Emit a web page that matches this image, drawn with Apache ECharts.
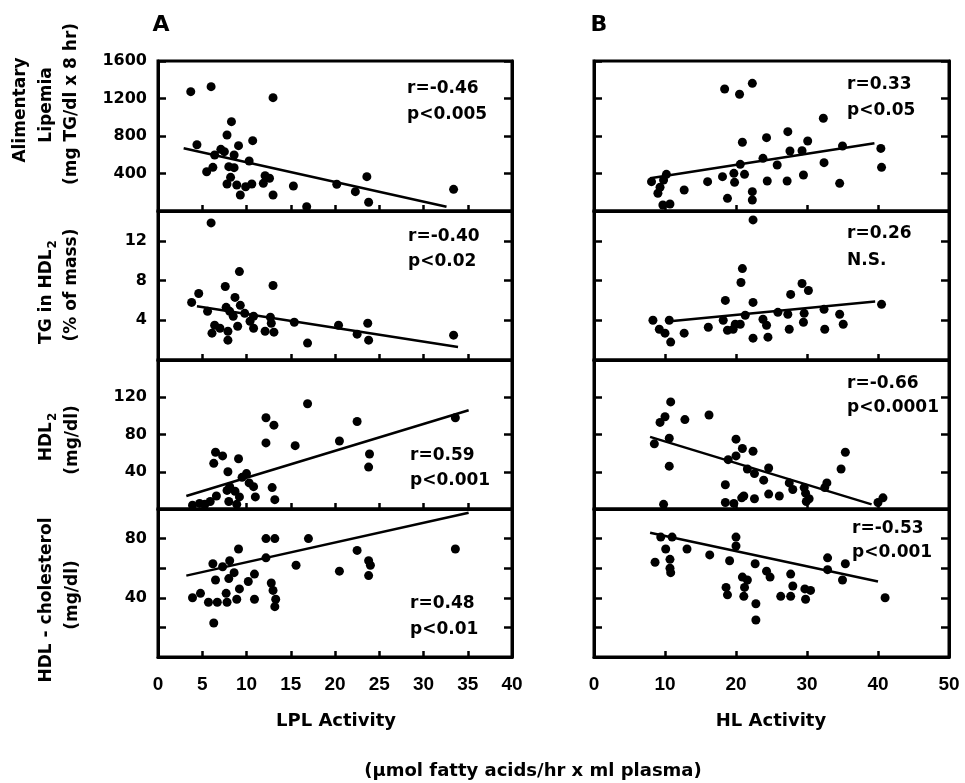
<!DOCTYPE html>
<html>
<head>
<meta charset="utf-8">
<script src="https://cdn.jsdelivr.net/npm/echarts@6/dist/echarts.min.js"></script>
<style>html,body{margin:0;padding:0;background:#fff}#c{width:965px;height:783px}</style>
</head>
<body>
<div id="c"></div>
<script>
// ---------- DATA ----------
const lplAlimentary = [[3.7,1273],[6.0,1326],[13.0,1209],[8.3,953],[7.8,811],[4.4,707],[9.1,697],[10.7,750],[7.1,658],[7.5,633],[6.4,597],[8.6,597],[10.3,533],[8.0,473],[8.6,462],[6.2,466],[5.5,419],[8.2,359],[12.1,377],[12.6,349],[11.9,295],[7.8,288],[8.9,277],[10.6,288],[9.9,259],[9.3,171],[13.0,171],[15.3,267],[20.2,285],[22.3,206],[23.6,366],[23.8,93],[33.4,231],[16.8,45]];
const lplAlimentaryFit = [[2.9,670],[32.6,45]];

const lplTG = [[6.0,13.8],[9.2,8.9],[13.0,7.5],[7.6,7.4],[4.6,6.7],[8.7,6.3],[3.8,5.8],[9.3,5.5],[7.7,5.3],[5.6,4.9],[8.1,4.9],[8.5,4.4],[9.8,4.7],[10.8,4.4],[10.4,3.9],[12.7,4.3],[12.8,3.7],[15.4,3.8],[6.4,3.5],[7.0,3.2],[9.0,3.4],[10.8,3.2],[7.9,2.9],[6.1,2.7],[12.1,2.9],[13.1,2.8],[7.9,2.0],[16.9,1.7],[20.4,3.5],[23.7,3.7],[22.5,2.6],[23.8,2.0],[33.4,2.5]];
const lplTGFit = [[4.4,5.4],[33.9,1.3]];

const lplHDL2 = [[16.9,113],[12.2,98],[13.1,90],[22.5,94],[33.6,98],[12.2,71],[15.5,68],[20.5,73],[23.9,59],[23.8,45],[6.5,61],[7.3,57],[6.3,49],[9.1,54],[7.9,40],[10.0,38],[9.5,34],[10.3,28],[10.8,24],[8.1,24],[7.8,20],[8.7,19],[6.6,14],[9.2,13],[11.0,13],[12.9,23],[13.2,10],[8.0,8],[5.9,8],[4.7,6],[3.9,4],[5.3,5],[8.9,5]];
const lplHDL2Fit = [[3.2,14],[35.1,106]];

const lplHDLc = [[12.2,80],[13.2,80],[17.0,80],[9.1,73],[22.5,72],[33.6,73],[12.2,67],[6.2,63],[8.1,65],[7.3,61],[15.6,62],[23.8,65],[24.0,62],[20.5,58],[23.8,55],[8.6,57],[10.9,56],[8.0,53],[6.5,52],[10.2,51],[12.8,50],[9.2,46],[7.7,43],[4.8,43],[13.0,45],[3.9,40],[8.9,39],[7.8,37],[10.9,39],[13.3,39],[5.7,37],[6.7,37],[13.2,34],[6.3,23]];
const lplHDLcFit = [[3.2,55],[35.1,97.5]];

const hlAlimentary = [[22.3,1362],[18.4,1301],[20.5,1245],[32.3,989],[27.3,846],[24.3,782],[20.9,733],[30.1,747],[35.0,693],[40.4,668],[27.6,640],[29.3,643],[23.8,562],[20.6,498],[25.8,491],[32.4,516],[40.5,466],[10.2,391],[18.1,366],[19.7,402],[21.2,391],[29.5,384],[8.1,313],[9.8,331],[16.0,313],[19.8,306],[24.4,320],[27.2,320],[34.6,295],[9.3,253],[9.0,189],[12.7,224],[22.3,206],[22.3,117],[18.8,135],[10.7,75],[9.7,64]];
const hlAlimentaryFit = [[7.9,349],[39.5,722]];

const hlTG = [[22.4,14.1],[20.9,9.2],[20.7,7.8],[29.3,7.7],[30.2,7.0],[27.7,6.6],[18.5,6.0],[22.4,5.8],[40.5,5.6],[25.9,4.8],[27.3,4.6],[29.6,4.7],[32.4,5.1],[34.6,4.6],[21.3,4.5],[8.3,4.0],[10.6,4.0],[18.2,4.0],[23.8,4.1],[19.9,3.6],[20.6,3.6],[29.5,3.8],[9.2,3.1],[24.3,3.5],[35.1,3.6],[10.0,2.7],[12.7,2.7],[16.1,3.3],[18.8,3.0],[19.6,3.1],[27.5,3.1],[32.5,3.1],[10.8,1.8],[22.4,2.2],[24.5,2.3]];
const hlTGFit = [[10.7,3.9],[39.6,5.9]];

const hlHDL2 = [[10.8,115],[10.0,99],[9.3,93],[12.8,96],[16.2,101],[10.6,76],[8.5,70],[20.0,75],[20.9,65],[22.4,62],[20.0,57],[18.9,53],[35.4,61],[10.6,46],[21.6,43],[22.6,38],[24.6,44],[34.8,43],[23.9,31],[27.5,28],[28.0,21],[29.6,23],[29.8,17],[32.8,28],[32.5,23],[18.5,26],[21.1,14],[24.6,16],[26.1,14],[22.6,11],[20.8,12],[30.3,11],[29.9,8],[40.7,12],[40.0,7],[18.5,7],[19.7,6],[9.8,5]];
const hlHDL2Fit = [[7.9,77.5],[39.1,5]];

const hlHDLc = [[20.0,81],[9.4,81],[11.0,81],[20.0,75],[10.1,73],[13.1,73],[16.3,69],[19.1,65],[10.7,66],[8.6,64],[22.7,63],[32.9,67],[35.4,63],[32.9,59],[10.7,60],[10.8,57],[24.3,58],[24.8,54],[27.7,56],[20.9,54],[21.6,52],[35.0,52],[28.0,48],[21.2,47],[18.6,47],[29.7,46],[30.5,45],[18.8,42],[21.1,41],[26.3,41],[27.7,41],[29.8,39],[41.0,40],[22.8,36],[22.8,25]];
const hlHDLcFit = [[7.9,84],[40.0,51]];

const lplTicks = [0,5,10,15,20,25,30,35,40];
const hlTicks = [0,10,20,30,40,50];
const alimLabels = [400,800,1200,1600];
const tgLabels = [4,8,12];
const hdl2Labels = [40,80,120];
const hdlcLabels = [40,80];

const stats = [
  ['r=-0.46','p<0.005'], ['r=0.33','p<0.05'],
  ['r=-0.40','p<0.02'],  ['r=0.26','N.S.'],
  ['r=0.59','p<0.001'],  ['r=-0.66','p<0.0001'],
  ['r=0.48','p<0.01'],   ['r=-0.53','p<0.001']
];

// ---------- LAYOUT ----------
const cols = [{left:158,width:354},{left:594,width:355}];
const rows = [{top:61,height:150},{top:211,height:149},{top:360,height:149},{top:509,height:148}];
const yCfg = [
  {min:0,max:1600,interval:400,labels:alimLabels},
  {min:0,max:15,interval:4,labels:tgLabels},
  {min:0,max:160,interval:40,labels:hdl2Labels},
  {min:0,max:100,interval:20,labels:hdlcLabels}
];
const xCfg = [
  {min:lplTicks[0],max:lplTicks[lplTicks.length-1],interval:lplTicks[1]-lplTicks[0]},
  {min:hlTicks[0],max:hlTicks[hlTicks.length-1],interval:hlTicks[1]-hlTicks[0]}
];
const panels = [
  [lplAlimentary,lplAlimentaryFit],[hlAlimentary,hlAlimentaryFit],
  [lplTG,lplTGFit],[hlTG,hlTGFit],
  [lplHDL2,lplHDL2Fit],[hlHDL2,hlHDL2Fit],
  [lplHDLc,lplHDLcFit],[hlHDLc,hlHDLcFit]
];

const FONT = '"DejaVu Sans", sans-serif';
const grid=[], xAxis=[], yAxis=[], series=[];
for (let r=0;r<4;r++){
  for (let c=0;c<2;c++){
    const g = r*2+c;
    grid.push({left:cols[c].left, width:cols[c].width, top:rows[r].top, height:rows[r].height,
      show:true, borderColor:'#000', borderWidth:3, containLabel:false});
    xAxis.push({type:'value', gridIndex:g, min:xCfg[c].min, max:xCfg[c].max, interval:xCfg[c].interval,
      axisLine:{show:true,onZero:false,lineStyle:{color:'#000',width:3}},
      axisTick:{show:true,inside:true,length:6,lineStyle:{color:'#000',width:2.5}},
      splitLine:{show:false},
      axisLabel:{show:r===3, color:'#000', fontWeight:'bold', fontSize:19, fontFamily:'"Liberation Sans", Arial, sans-serif', margin:18,
        formatter:v=>String(v)}
    });
    const yc = yCfg[r];
    yAxis.push({type:'value', gridIndex:g, position:'left', min:yc.min, max:yc.max, interval:yc.interval,
      axisLine:{show:true,onZero:false,lineStyle:{color:'#000',width:3}},
      axisTick:{show:true,inside:true,length:8,lineStyle:{color:'#000',width:2.5}},
      splitLine:{show:false},
      axisLabel:{show:c===0, color:'#000', fontWeight:'bold', fontSize:16, fontFamily:FONT, margin:11,
        formatter:v=> yc.labels.indexOf(v)>=0 ? String(v) : ''}
    });
    yAxis.push({type:'value', gridIndex:g, position:'right', min:yc.min, max:yc.max, interval:yc.interval,
      axisLine:{show:true,onZero:false,lineStyle:{color:'#000',width:3}},
      axisTick:{show:true,inside:true,length:8,lineStyle:{color:'#000',width:2.5}},
      splitLine:{show:false}, axisLabel:{show:false}
    });
    series.push({type:'scatter', xAxisIndex:g, yAxisIndex:2*g, data:panels[g][0],
      symbol:'circle', symbolSize:9, itemStyle:{color:'#000', opacity:1}, clip:false, silent:true});
    series.push({type:'line', xAxisIndex:g, yAxisIndex:2*g, data:panels[g][1],
      showSymbol:false, lineStyle:{color:'#000',width:2.5}, silent:true});
  }
}

// ---------- TEXT ----------
const statPos = [[407,89,115],[847,85,111],[408,237,262],[847,234,261],[410,456,481],[847,384,408],[410,604,630],[852,529,553]];
const graphic = [];
const tfont = 'bold 17px "DejaVu Sans"';
stats.forEach((s,i)=>{
  const p = statPos[i];
  graphic.push({type:'text', x:p[0], y:p[1], style:{text:s[0], font:tfont, fill:'#000', align:'left', verticalAlign:'middle'}});
  graphic.push({type:'text', x:p[0], y:p[2], style:{text:s[1], font:tfont, fill:'#000', align:'left', verticalAlign:'middle'}});
});
const rot = Math.PI/2;
const yNames = [
  ['Alimentary',21,110],['Lipemia',47,105],['(mg TG/dl x 8 hr)',72,104],
  ['{m|TG in HDL}{s|2}',47,292],['(% of mass)',72,285],
  ['{m|HDL}{s|2}',47,437],['(mg/dl)',73,440],
  ['HDL - cholesterol',47,600],['(mg/dl)',73,595]
];
yNames.forEach(n=>{
  graphic.push({type:'text', x:n[1], y:n[2], rotation:rot,
    style:{text:n[0], font:'bold 17px "DejaVu Sans"', fill:'#000', align:'center', verticalAlign:'middle',
      rich:{m:{font:'bold 17px "DejaVu Sans"', fill:'#000'}, s:{font:'bold 12px "DejaVu Sans"', fill:'#000', padding:[11,0,0,1]}}}});
});
graphic.push({type:'text', x:161, y:25, style:{text:'A', font:'bold 22px "DejaVu Sans"', fill:'#000', align:'center', verticalAlign:'middle'}});
graphic.push({type:'text', x:599, y:25, style:{text:'B', font:'bold 22px "DejaVu Sans"', fill:'#000', align:'center', verticalAlign:'middle'}});
graphic.push({type:'text', x:336, y:721, style:{text:'LPL Activity', font:'bold 18px "DejaVu Sans"', fill:'#000', align:'center', verticalAlign:'middle'}});
graphic.push({type:'text', x:771, y:721, style:{text:'HL Activity', font:'bold 18px "DejaVu Sans"', fill:'#000', align:'center', verticalAlign:'middle'}});
graphic.push({type:'text', x:533, y:771, style:{text:'(µmol fatty acids/hr x ml plasma)', font:'bold 18px "DejaVu Sans"', fill:'#000', align:'center', verticalAlign:'middle'}});

const chart = echarts.init(document.getElementById('c'), null, {renderer:'canvas'});
chart.setOption({animation:false, backgroundColor:'#fff', grid, xAxis, yAxis, series, graphic});
</script>
</body>
</html>
